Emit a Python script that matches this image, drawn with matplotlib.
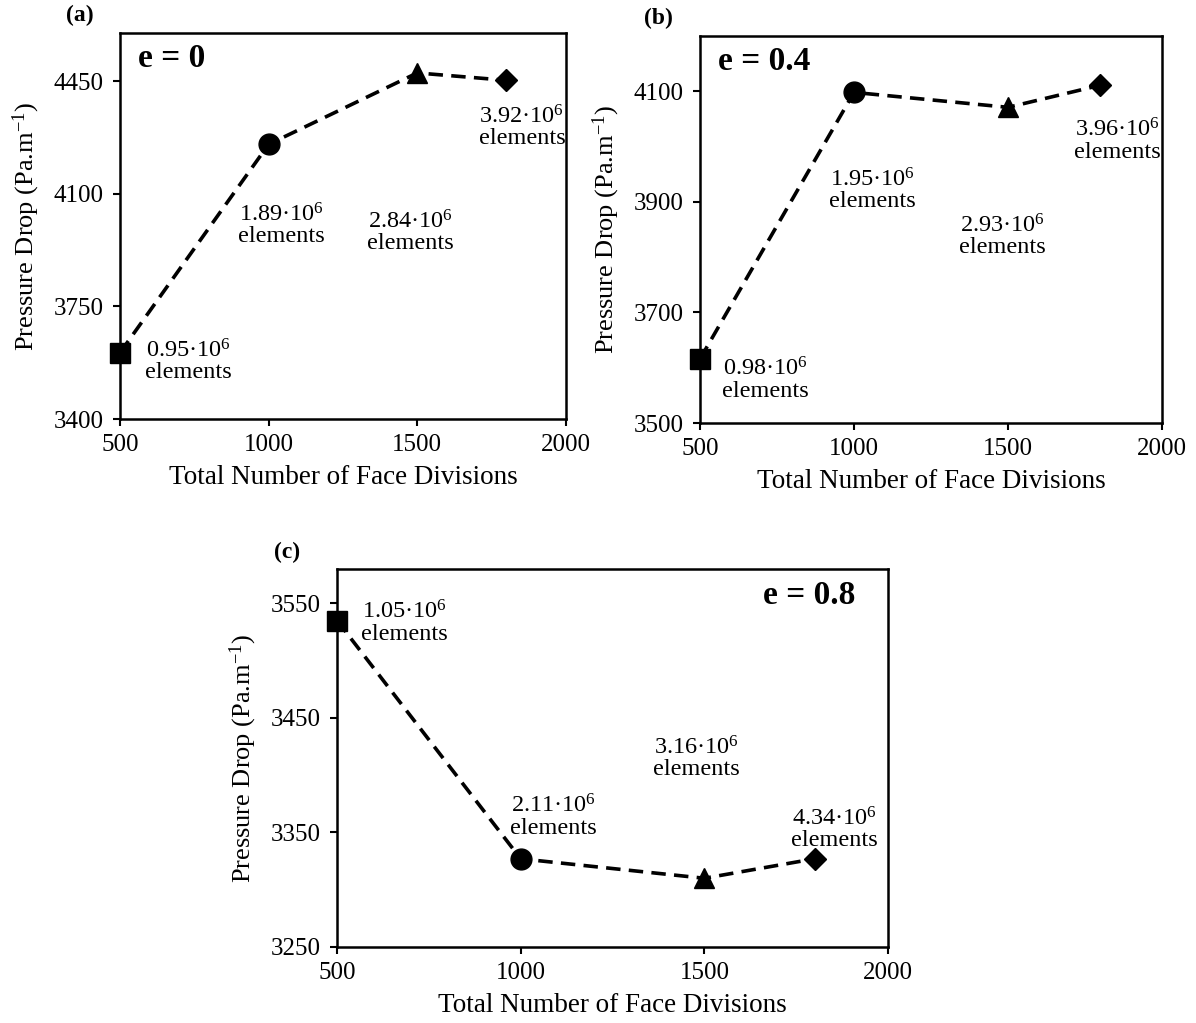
from matplotlib import pyplot as plt

plt.rcParams['font.family'] = ['Liberation Serif', 'DejaVu Serif']
plt.rcParams['mathtext.fontset'] = 'custom'
plt.rcParams['mathtext.rm'] = 'Liberation Serif'
plt.rcParams['mathtext.it'] = 'Liberation Serif:italic'
plt.rcParams['mathtext.bf'] = 'Liberation Serif:bold'

divisions = [500, 1000, 1500, 1800]
markers = ['s', 'o', '^', 'D']
marker_sizes = [14, 15, 15, 11]

drop_a = [3606, 4254, 4476, 4453]
drop_b = [3616, 4098, 4071, 4111]
drop_c = [3535, 3327, 3310, 3327]

elements_a = ['0.95', '1.89', '2.84', '3.92']
elements_b = ['0.98', '1.95', '2.93', '3.96']
elements_c = ['1.05', '2.11', '3.16', '4.34']

# where the element-count notes sit (data coords)
note_xy_a = [(730, 3580), (1043, 4002), (1478, 3981), (1852, 4307)]
note_xy_b = [(713, 3578), (1060, 3921), (1483, 3838), (1856, 4011)]
note_xy_c = [(683, 3533), (1089, 3364), (1479, 3415), (1854, 3353)]

panels = [
    ('(a)', 'e = 0', drop_a, elements_a, note_xy_a, (3400, 4600), [3400, 3750, 4100, 4450],
     [0.1003, 0.5904, 0.3729, 0.3773], 'left'),
    ('(b)', 'e = 0.4', drop_b, elements_b, note_xy_b, (3500, 4200), [3500, 3700, 3900, 4100],
     [0.5853, 0.5865, 0.3863, 0.3783], 'left'),
    ('(c)', 'e = 0.8', drop_c, elements_c, note_xy_c, (3250, 3580), [3250, 3350, 3450, 3550],
     [0.2818, 0.0743, 0.4607, 0.3695], 'right'),
]

fig = plt.figure(figsize=(11.96, 10.23), dpi=100)

for tag, ecc, drop, elems, notes, ylim, yticks, rect, ecc_side in panels:
    ax = fig.add_axes(rect)
    ax.plot(divisions, drop, color='black', lw=2.6, ls=(0, (4, 2.3)), zorder=2)
    for x, y, m, ms in zip(divisions, drop, markers, marker_sizes):
        ax.plot(x, y, marker=m, ms=ms, color='black', ls='none', zorder=3, clip_on=False)
    for (nx, ny), e in zip(notes, elems):
        ax.text(nx, ny, e + '·10$^{6}$\nelements', ha='center', va='center',
                fontsize=17.5, linespacing=1.0)
    ax.set_xlim(500, 2000)
    ax.set_ylim(*ylim)
    ax.set_xticks([500, 1000, 1500, 2000])
    ax.set_yticks(yticks)
    ax.tick_params(direction='out', length=5, width=1.5, labelsize=18)
    ax.tick_params(axis='y', pad=7)
    ax.tick_params(axis='x', pad=6)
    for s in ax.spines.values():
        s.set_linewidth(1.8)
    ax.set_xlabel('Total Number of Face Divisions', fontsize=19.5, labelpad=6)
    ax.set_ylabel('Pressure Drop (Pa.m$^{-1}$)', fontsize=19, labelpad=8)
    if ecc_side == 'left':
        ax.text(0.04, 0.935, ecc, transform=ax.transAxes, ha='left', va='center',
                fontsize=24, fontweight='bold')
    else:
        ax.text(0.94, 0.93, ecc, transform=ax.transAxes, ha='right', va='center',
                fontsize=24, fontweight='bold')
    ax.text(-0.09, 1.045, tag, transform=ax.transAxes, ha='center', va='center',
            fontsize=17, fontweight='bold')

fig.savefig('out.png', dpi=100)
